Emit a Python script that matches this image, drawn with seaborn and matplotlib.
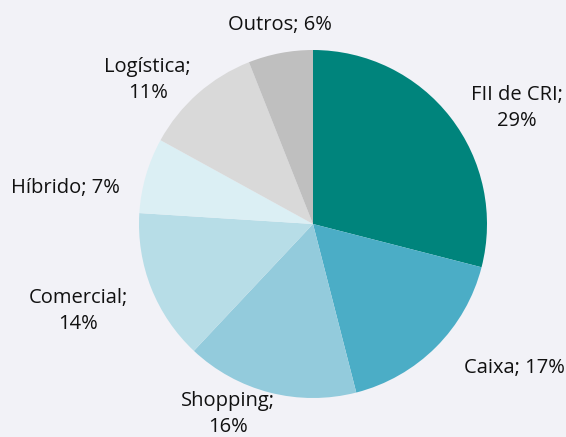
import matplotlib
matplotlib.use('Agg')
import matplotlib.pyplot as plt
import seaborn as sns

sns.set_theme(style="white")
plt.rcParams['font.family'] = ['Open Sans', 'DejaVu Sans']

# data
categories = ["FII de CRI", "Caixa", "Shopping", "Comercial", "Híbrido", "Logística", "Outros"]
shares = [29, 17, 16, 14, 7, 11, 6]
label_text = ["FII de CRI;\n29%", "Caixa; 17%", "Shopping;\n16%", "Comercial;\n14%",
              "Híbrido; 7%", "Logística;\n11%", "Outros; 6%"]
colors = ["#00847c", "#4badc6", "#93cbdc", "#b7dde7", "#dbeff4", "#d9d9d9", "#bfbfbf"]

# label placement (in radius units, relative to pie center)
label_xy = [(1.17, 0.667), (1.155, -0.828), (-0.49, -1.09), (-1.35, -0.50),
            (-1.42, 0.207), (-0.95, 0.83), (-0.19, 1.144)]

bg = "#f2f2f7"
fig = plt.figure(figsize=(5.66, 4.37), dpi=100, facecolor=bg)
ax = fig.add_axes([0, 0, 1, 1])
ax.set_facecolor(bg)

wedges, _ = ax.pie(shares, colors=colors, startangle=90, counterclock=False,
                   radius=1.0, wedgeprops=dict(linewidth=0))

for txt, (x, y) in zip(label_text, label_xy):
    ax.text(x, y, txt, ha="center", va="center", fontsize=14.5, color="#111111",
            linespacing=1.4)

ax.set_xlim(-313 / 174, (566 - 313) / 174)
ax.set_ylim(-(437 - 224) / 174, 224 / 174)
ax.set_aspect('auto')
ax.axis('off')

plt.savefig("out.png", dpi=100, facecolor=bg)
plt.close(fig)
